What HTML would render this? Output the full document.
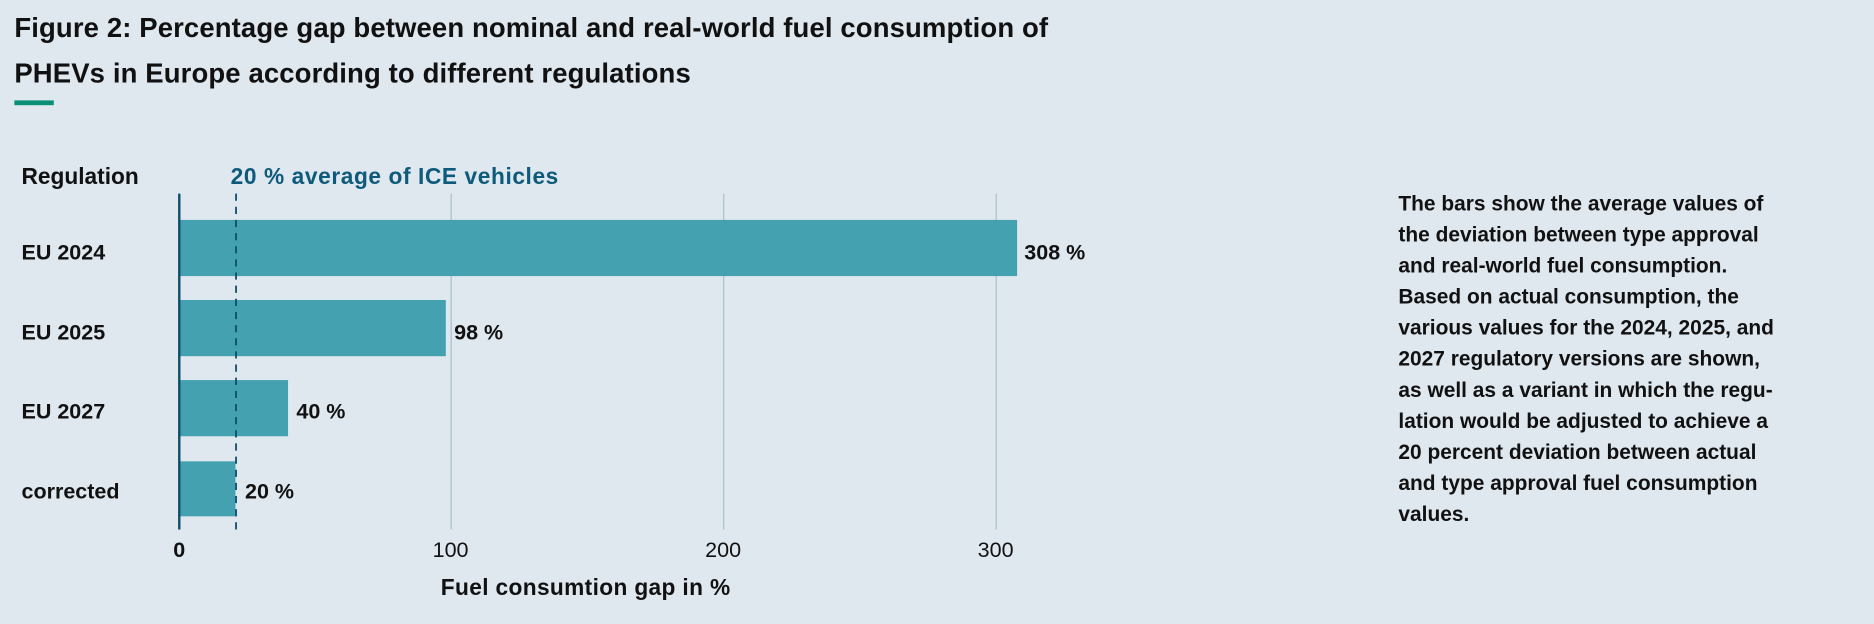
<!DOCTYPE html>
<html><head><meta charset="utf-8"><style>
body{margin:0;width:1874px;height:624px;background:#dfe7ef;font-family:"Liberation Sans",sans-serif;overflow:hidden;position:relative}
#w{position:absolute;left:0;top:0;width:1568px;height:522px;transform:scale(1.1952);transform-origin:0 0}
.t{position:absolute;font-weight:bold;color:#111}
</style></head><body><div id="w">
<div class="t" style="left:12px;top:4px;font-size:23px;line-height:38px;letter-spacing:0.1px">Figure 2: Percentage gap between nominal and real-world fuel consumption of<br>PHEVs in Europe according to different regulations</div>
<div style="position:absolute;left:12px;top:84px;width:33px;height:4px;background:#0a8f74"></div>
<svg width="1568" height="522" style="position:absolute;left:0;top:0" font-family="Liberation Sans, sans-serif">
<g stroke="#a9bfcc" stroke-width="1">
<line x1="377.5" y1="162" x2="377.5" y2="443"/><line x1="605.5" y1="162" x2="605.5" y2="443"/><line x1="833.5" y1="162" x2="833.5" y2="443"/></g>
<g fill="#44a1b0">
<rect x="150" y="184" width="701" height="47"/><rect x="150" y="251" width="223" height="47"/>
<rect x="150" y="318" width="91" height="47"/><rect x="150" y="386" width="47" height="46"/></g>
<line x1="150" y1="162" x2="150" y2="443" stroke="#0d4d6b" stroke-width="2"/>
<line x1="197.5" y1="162" x2="197.5" y2="443" stroke="#0d4d6b" stroke-width="1.5" stroke-dasharray="6,5"/>
<g font-weight="bold" font-size="18" fill="#111">
<text x="18" y="154" font-size="19">Regulation</text>
<text x="18" y="217">EU 2024</text><text x="18" y="284">EU 2025</text>
<text x="18" y="350">EU 2027</text><text x="18" y="417">corrected</text>
<text x="857" y="217">308 %</text><text x="380" y="284">98 %</text>
<text x="248" y="350">40 %</text><text x="205" y="417">20 %</text>
<text x="150" y="466" text-anchor="middle">0</text>
<text x="490" y="498" text-anchor="middle" font-size="19" letter-spacing="0.3">Fuel consumtion gap in %</text>
<text x="193" y="154" fill="#0d5a7a" font-size="19" letter-spacing="0.5">20 % average of ICE vehicles</text>
</g>
<g font-size="18" fill="#111" text-anchor="middle">
<text x="377" y="466">100</text><text x="605" y="466">200</text><text x="833" y="466">300</text></g>
</svg>
<div class="t" style="left:1170px;top:157px;font-size:17.5px;line-height:26px;width:380px">The bars show the average values of<br>the deviation between type approval<br>and real-world fuel consumption.<br>Based on actual consumption, the<br>various values for the 2024, 2025, and<br>2027 regulatory versions are shown,<br>as well as a variant in which the regu-<br>lation would be adjusted to achieve a<br>20 percent deviation between actual<br>and type approval fuel consumption<br>values.</div>
</div></body></html>
